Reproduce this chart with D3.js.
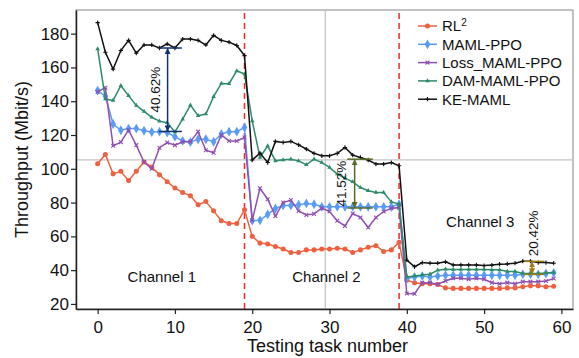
<!DOCTYPE html>
<html>
<head>
<meta charset="utf-8">
<script src="https://cdn.jsdelivr.net/npm/d3@7"></script>
<style>
  body { margin: 0; background: #fff; }
  text { font-family: "Liberation Sans", Arial, sans-serif; }
</style>
</head>
<body>
<div id="vis"></div>
<script>
// series values, one per testing task (0..59)
const tasks = d3.range(60);

const rl2 = [
  103, 108.5, 97, 98.5, 93, 98.5, 104, 101, 96.4, 92.3, 88.6, 86, 84, 78.7, 80.6, 75.1, 69.2, 67.6, 67.6, 75.7,
  60, 56, 55.5, 54, 52.5, 50.5, 50.5, 52, 52, 52.5, 52.5, 53, 52.5, 50.5, 52, 53.5, 54.5, 51, 52, 56.5,
  34, 32.5, 32, 32, 31.5, 29.5, 29.2, 29.2, 29.2, 29.2, 29.2, 29.2, 29.2, 29.5, 29.5, 30.2, 30.7, 30.7, 30.2, 30.5
];
const mamlPpo = [
  146.3, 143, 126.5, 122.8, 123.8, 123.8, 122.5, 121.8, 122, 121.5, 119, 116.5, 115.8, 117.5, 117.5, 116, 120.6, 122, 122, 124.5,
  69.3, 69.5, 73, 76.5, 78.3, 78.3, 78.7, 79.5, 79, 77.5, 77.5, 77.5, 77.5, 77.5, 77.5, 77.5, 77.5, 77.5, 77.5, 79,
  35.2, 36, 36.5, 36, 36.5, 37, 37, 37, 37, 37, 37, 37, 37, 37, 37, 37.5, 37.5, 37.5, 38, 38.4
];
const lossMaml = [
  145.5, 148, 113.6, 115.8, 123, 114, 104, 100, 112.5, 115.5, 114, 116, 116, 122, 111, 109.5, 120, 116.5, 116.5, 118.5,
  69.5, 88.5, 82, 72, 80, 81.5, 75, 72.7, 73.3, 76.7, 74.7, 69.2, 66.2, 73.5, 71.2, 65.2, 71.2, 74.7, 76.7, 77,
  26.2, 26, 32.6, 32.6, 31.7, 33.6, 35.2, 35.2, 34.6, 35.2, 34.6, 32.6, 32, 32.6, 32, 33.2, 33.2, 33.2, 33.6, 35
];
const damMaml = [
  171, 141.3, 140.5, 149.2, 143.3, 137.5, 134, 130.5, 128.2, 127.3, 121.8, 129.4, 137.7, 131.4, 132.4, 142.7, 150.5, 150.4, 158, 156.1,
  128.4, 106.7, 113.6, 104.7, 105.3, 105.7, 104.7, 102.4, 105.7, 103.7, 100.8, 96.9, 94.5, 92.3, 88.9, 87, 86, 86, 80.4, 79.1,
  36, 36.6, 37.2, 37.6, 40, 40.6, 40.4, 40.4, 40.4, 40.4, 40.4, 40.2, 40.2, 39.2, 39.2, 38, 38, 38, 38.3, 38.6
];
const keMaml = [
  186.5, 169, 159, 170, 176, 168.5, 173.3, 173.3, 171.5, 173.9, 171.5, 176.8, 176.8, 176, 173.3, 179, 176, 175, 173, 167,
  105.2, 109.3, 103.7, 116.2, 115.6, 116.2, 114.2, 111.7, 109.1, 107.7, 107.7, 109.1, 112.6, 108.1, 106.7, 105.2, 102.8, 102.8, 103.7, 101.8,
  45.9, 42, 44.5, 44.1, 44.1, 44.9, 43.1, 43.1, 43.1, 43.1, 42.7, 43, 43.5, 43.7, 44.1, 45.3, 45.3, 44.5, 44.5, 44.1
];

const seriesNames = ["RL2", "MAML-PPO", "Loss_MAML-PPO", "DAM-MAML-PPO", "KE-MAML"];
const xTicks = [0, 10, 20, 30, 40, 50, 60];
const yTicks = [20, 40, 60, 80, 100, 120, 140, 160, 180];
const channelSplits = [19, 39];
const channelLabels = ["Channel 1", "Channel 2", "Channel 3"];
const channelLabelX = [8.3, 29.6, 49.5];
const channelLabelY = [33, 33, 65.5];
const crossX = 29.45;
const crossY = 105.3;

// gain annotations: x, from, to, cap span, label
const gains = [
  {label: "40.62%", x: 9.05, lo: 122.1, hi: 171.5, cap: [7.9, 10.9], color: "#14306f"},
  {label: "41.52%", x: 33.25, lo: 76.8, hi: 105.7, cap: [32.3, 35.6], color: "#566a24"},
  {label: "20.42%", x: 56.2, lo: 37.5, hi: 45.2, cap: [55.2, 57.8], color: "#9b7a14"}
];

const width = 579, height = 358;
const margin = {top: 10, right: 6, bottom: 49, left: 76};

const svg = d3.select("#vis").append("svg")
  .attr("width", width)
  .attr("height", height)
  .style("display", "block");

svg.append("rect").attr("width", width).attr("height", height).attr("fill", "#fff");

const x = d3.scaleLinear().domain([-2.8, 61.5]).range([margin.left, width - margin.right]);
const y = d3.scaleLinear().domain([17, 194]).range([height - margin.bottom, margin.top]);

const styles = [
  {data: rl2, color: "#ee6140", symbol: d3.symbolCircle, size: 20, fill: true},
  {data: mamlPpo, color: "#5a9bf6", symbol: d3.symbolDiamond, size: 28, fill: true},
  {data: lossMaml, color: "#8e4fb0", symbol: d3.symbolTimes, size: 11, fill: false},
  {data: damMaml, color: "#2e8b6a", symbol: d3.symbolTriangle, size: 9, fill: true},
  {data: keMaml, color: "#111", symbol: d3.symbolPlus, size: 7, fill: false}
];

// frame
svg.append("rect")
  .attr("x", x.range()[0]).attr("y", y.range()[1])
  .attr("width", x.range()[1] - x.range()[0])
  .attr("height", y.range()[0] - y.range()[1])
  .attr("fill", "none").attr("stroke", "#9a9a9a").attr("stroke-width", 1.2);

// grey cross lines
svg.append("line")
  .attr("x1", x(crossX)).attr("x2", x(crossX))
  .attr("y1", y.range()[0]).attr("y2", y.range()[1])
  .attr("stroke", "#c4c4c4").attr("stroke-width", 1.3);
svg.append("line")
  .attr("x1", x.range()[0]).attr("x2", x.range()[1])
  .attr("y1", y(crossY)).attr("y2", y(crossY))
  .attr("stroke", "#c4c4c4").attr("stroke-width", 1.3);

// channel boundaries
svg.append("g").selectAll("line")
  .data(channelSplits)
  .join("line")
    .attr("x1", d => x(d)).attr("x2", d => x(d))
    .attr("y1", y.range()[0]).attr("y2", y.range()[1])
    .attr("stroke", "#ee2a2a").attr("stroke-width", 1.5)
    .attr("stroke-dasharray", "6,4");

// axes
const xAxis = svg.append("g")
  .attr("transform", `translate(0,${y.range()[0]})`)
  .call(d3.axisBottom(x).tickValues(xTicks).tickSize(5).tickSizeOuter(0));
const yAxis = svg.append("g")
  .attr("transform", `translate(${x.range()[0]},0)`)
  .call(d3.axisLeft(y).tickValues(yTicks).tickSize(5).tickSizeOuter(0));

for (const ax of [xAxis, yAxis]) {
  ax.select(".domain").attr("stroke", "#222").attr("stroke-width", 1.5);
  ax.selectAll(".tick line").attr("stroke", "#222").attr("stroke-width", 1.2);
  ax.selectAll(".tick text")
    .attr("font-size", 17).attr("fill", "#111")
    .style("font-family", "'Liberation Sans', Arial, sans-serif");
}
xAxis.selectAll(".tick text").attr("dy", "0.95em");
yAxis.selectAll(".tick text").attr("x", -7);

svg.append("text")
  .attr("x", (x.range()[0] + x.range()[1]) / 2 + 3)
  .attr("y", 352)
  .attr("text-anchor", "middle")
  .attr("font-size", 18)
  .attr("fill", "#111")
  .text("Testing task number");

svg.append("text")
  .attr("transform", `translate(28,${(y.range()[0] + y.range()[1]) / 2}) rotate(-90)`)
  .attr("text-anchor", "middle")
  .attr("font-size", 18)
  .attr("fill", "#111")
  .text("Throughput (Mbit/s)");

// series
const line = d3.line().x((d, i) => x(tasks[i])).y(d => y(d));

styles.forEach(s => {
  const g = svg.append("g");
  g.append("path")
    .attr("d", line(s.data))
    .attr("fill", "none")
    .attr("stroke", s.color)
    .attr("stroke-width", 1.5);
  g.selectAll("path.mk")
    .data(s.data)
    .join("path")
      .attr("class", "mk")
      .attr("transform", (d, i) => `translate(${x(tasks[i])},${y(d)})`)
      .attr("d", d3.symbol().type(s.symbol).size(s.size))
      .attr("fill", s.fill ? s.color : "none")
      .attr("stroke", s.color)
      .attr("stroke-width", s.fill ? 0 : 1.1);
});

// arrow heads
const defs = svg.append("defs");
gains.forEach((g, k) => {
  defs.append("marker")
    .attr("id", "ah" + k)
    .attr("viewBox", "0 0 10 10")
    .attr("refX", 10).attr("refY", 5)
    .attr("markerWidth", 6).attr("markerHeight", 6)
    .attr("markerUnits", "userSpaceOnUse")
    .attr("orient", "auto-start-reverse")
    .append("path")
      .attr("d", "M0,0L10,5L0,10z")
      .attr("fill", g.color);
});

// gain annotations
gains.forEach((g, k) => {
  const a = svg.append("g");
  a.append("line")
    .attr("x1", x(g.x)).attr("x2", x(g.x))
    .attr("y1", y(g.lo)).attr("y2", y(g.hi))
    .attr("stroke", g.color).attr("stroke-width", 1.5)
    .attr("marker-start", `url(#ah${k})`)
    .attr("marker-end", `url(#ah${k})`);
  for (const v of [g.lo, g.hi]) {
    a.append("line")
      .attr("x1", x(g.cap[0])).attr("x2", x(g.cap[1]))
      .attr("y1", y(v)).attr("y2", y(v))
      .attr("stroke", g.color).attr("stroke-width", 1.5);
  }
});

// percentage labels
const labelPos = [
  [x(gains[0].x) - 12, (y(gains[0].lo) + y(gains[0].hi)) / 2],
  [x(gains[1].x) - 13, (y(gains[1].lo) + y(gains[1].hi)) / 2],
  [x(gains[2].x) + 1, y(gains[2].hi) - 28]
];
gains.forEach((g, k) => {
  svg.append("text")
    .attr("transform", `translate(${labelPos[k][0]},${labelPos[k][1]}) rotate(-90)`)
    .attr("text-anchor", "middle")
    .attr("dominant-baseline", "central")
    .attr("font-size", 13.5)
    .attr("fill", "#111")
    .text(g.label);
});

// channel labels
svg.append("g").selectAll("text")
  .data(channelLabels)
  .join("text")
    .attr("x", (d, i) => x(channelLabelX[i]))
    .attr("y", (d, i) => y(channelLabelY[i]))
    .attr("text-anchor", "middle")
    .attr("font-size", 15)
    .attr("fill", "#111")
    .text(d => d);

// legend
const legend = svg.append("g").attr("transform", "translate(418,26)");
styles.forEach((s, i) => {
  const row = legend.append("g").attr("transform", `translate(0,${i * 18.3})`);
  row.append("line")
    .attr("x1", 0).attr("x2", 19)
    .attr("stroke", s.color).attr("stroke-width", 1.5);
  row.append("path")
    .attr("transform", "translate(9.5,0)")
    .attr("d", d3.symbol().type(s.symbol).size(s.size))
    .attr("fill", s.fill ? s.color : "none")
    .attr("stroke", s.color)
    .attr("stroke-width", s.fill ? 0 : 1.1);
  const t = row.append("text")
    .attr("x", 24).attr("y", 0)
    .attr("dy", "0.36em")
    .attr("font-size", 15)
    .attr("fill", "#111");
  if (seriesNames[i] === "RL2") {
    t.append("tspan").text("RL");
    t.append("tspan").attr("font-size", 10).attr("dy", "-0.55em").text("2");
  } else {
    t.text(seriesNames[i]);
  }
});
</script>
</body>
</html>
